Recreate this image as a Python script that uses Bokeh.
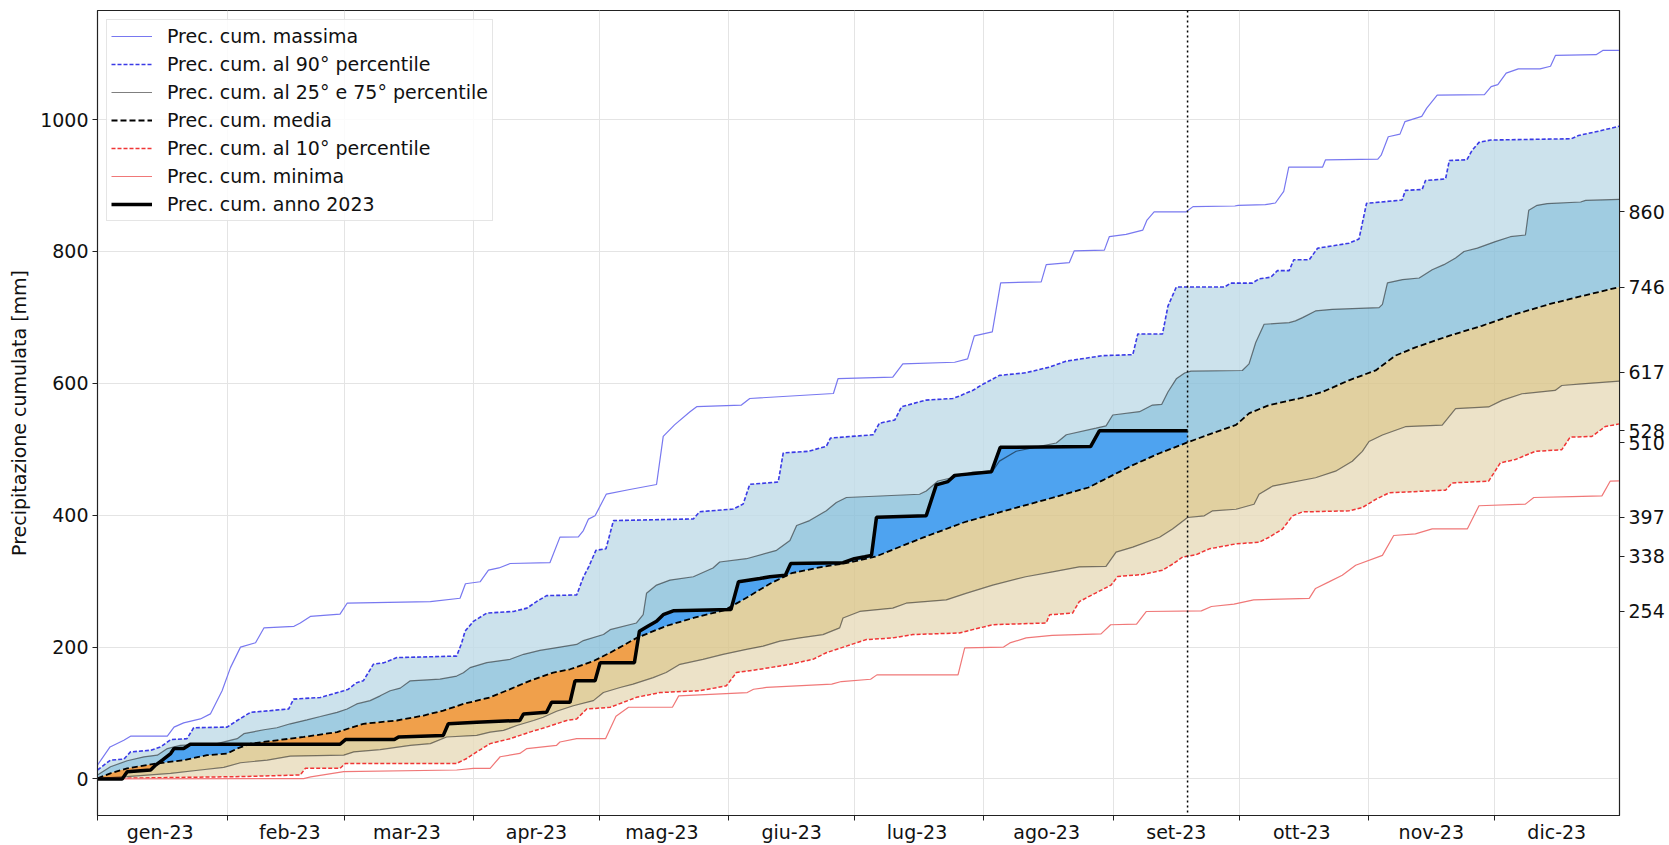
import numpy as np
from bokeh.plotting import figure
from bokeh.models import Range1d, LinearAxis, FixedTicker, Span, Legend, LegendItem
from bokeh.embed import file_html
from bokeh.resources import INLINE

# ---------------- data ----------------
month_labels = ["gen-23", "feb-23", "mar-23", "apr-23", "mag-23", "giu-23",
                "lug-23", "ago-23", "set-23", "ott-23", "nov-23", "dic-23"]
month_start_days = [0, 31, 59, 90, 120, 151, 181, 212, 243, 273, 304, 334]
month_label_days = [15, 46, 74, 105, 135, 166, 196, 227, 258, 288, 319, 349]
y_ticks = [0, 200, 400, 600, 800, 1000]
right_ticks = [860, 746, 617, 528, 510, 397, 338, 254]

max_days = [0, 3, 6.3, 8, 16.7, 18.3, 20.6, 24.6, 27, 29.8, 31.8, 34.2, 37.8, 39.8, 47, 48.5, 50.9, 58, 59.7, 79.6,
            86.7, 88, 91.5, 93.5, 96, 98.7, 108.2, 110.6, 115, 116.2, 117.4, 119, 121.7, 127.3, 133.7, 135.3, 138,
            141.7, 143.3, 154, 156, 176, 177.1, 190.2, 192.6, 205, 208.1, 209.7, 214, 216, 225.7, 226.9, 232.4,
            233.6, 240.8, 242, 246, 250, 251, 252.7, 260.3, 262, 272, 272.8, 279.3, 281.7, 283.7, 284.9, 293,
            293.7, 306.2, 307, 308.7, 311.5, 312.7, 316.7, 317.9, 320.4, 331.7, 333.3, 334.9, 336.9, 339.8, 345,
            347.5, 348.7, 358.4, 360, 364]
max_vals = [21, 48.5, 58.6, 65, 65, 78.6, 85, 91, 98.6, 133.7, 168.8, 199.9, 206.5, 229, 231.5, 236.5, 246.5, 250,
            266.5, 269, 274, 296, 299, 316.6, 320, 326.7, 328, 366.7, 367, 376.7, 394, 399.2, 432, 439, 446.5,
            519.5, 537, 557, 564.6, 567, 577, 584.6, 607, 609.5, 629.5, 632, 637, 672, 678, 752.5, 754, 780, 783,
            801, 802, 822.6, 826, 832.5, 847.6, 860, 860, 868, 869, 870, 871, 873.5, 891, 928, 928, 939, 940, 946,
            974, 978, 997, 1005, 1017.5, 1037, 1038, 1050, 1053, 1070.5, 1077, 1077, 1081, 1097.5, 1098.5, 1105,
            1105]

p90_days = [0, 3.1, 6.3, 7.9, 12.7, 15.1, 17.5, 21.4, 23, 31, 33.4, 36.6, 45.7, 46.9, 53.3, 58.9, 60, 62, 63.6, 66,
            68.4, 71.6, 85.9, 87.1, 87.9, 89.9, 93.1, 99.5, 102.7, 105, 107.4, 114.6, 116.2, 117.5, 119.2, 121.6,
            123.4, 142.5, 144, 152, 154.4, 156, 162.8, 164, 170, 174.3, 175.3, 185.5, 187, 190.7, 192.3, 198.2,
            204.6, 206.6, 209.4, 211.3, 215.7, 222, 227.6, 231.6, 240.4, 247.6, 248.8, 254.7, 256, 258, 269.5,
            271, 276.2, 277.8, 280.6, 282.2, 285, 286.1, 289.8, 291.8, 299.3, 301.7, 303.5, 312, 312.8, 316.8,
            317.6, 322.4, 323.3, 327.5, 328.7, 330.4, 333.2, 352.5, 354.2, 359, 364]
p90_vals = [13.5, 28.5, 30, 41, 43.5, 48.5, 59.6, 61, 77.6, 78.6, 88.6, 101, 106, 121, 123.5, 133.7, 136, 146, 149,
            174, 176, 184, 186.3, 206.3, 224, 239, 251.5, 254, 259, 269, 278, 279, 306, 322, 346.7, 349, 391.8,
            394.3, 405.3, 409.3, 416.8, 446.8, 450.3, 494.4, 496.9, 504.5, 517, 522, 539.5, 544.5, 564.6, 574.6,
            577, 582, 589.5, 597, 612, 616, 624.5, 633.6, 642, 643.5, 674.8, 674.8, 717, 746, 746, 752, 752, 758.5,
            761, 771, 771, 787.5, 787.5, 805, 812.5, 819, 873, 878, 892.6, 894, 907.6, 910, 938, 939, 953, 965.5,
            969, 971, 976, 982.5, 990]

p75_days = [0, 3.1, 7.1, 11.1, 14.3, 16.7, 19.8, 28.6, 33.4, 35, 39.8, 42.9, 46.1, 50.1, 53.3, 57.3, 59.7, 62, 65.2,
            67.6, 70, 72.4, 74.8, 81.9, 85.9, 87.5, 89.1, 93.1, 98.7, 101.9, 105.8, 110.6, 114.6, 116.2, 121, 122.6,
            128.9, 130.5, 131.3, 133.7, 136.9, 142.5, 147.2, 148.8, 155.2, 162.4, 165.6, 167.2, 170.3, 174.3,
            176.7, 179.1, 196.6, 198.2, 201, 206.1, 209.3, 214.1, 215.7, 219.7, 225.3, 229.3, 231.7, 238.8, 241.2,
            242.8, 249.2, 252.3, 254.5, 256, 258, 260, 261.5, 273.8, 275.4, 277, 279, 285, 286.5, 288.2, 291.3,
            295.3, 306.5, 307.3, 308.5, 312.1, 316.1, 319.2, 322, 324.8, 326.8, 330, 334.3, 337.9, 341.5, 342.3,
            344.3, 346.7, 354.7, 355.9, 364]
p75_vals = [6, 18.5, 27.5, 33.5, 36, 46, 51, 53.5, 61, 68.6, 74.6, 77.6, 83.6, 89.6, 94.6, 101, 106, 113.7, 118.7,
            126, 133.7, 137.7, 148.8, 151.3, 156, 161, 168.8, 176.3, 181.4, 189, 194.9, 200, 204, 209.8, 219, 226.4,
            236.5, 249, 281.5, 294, 301.6, 306.6, 320, 329, 334, 346.7, 361.7, 384.3, 391.8, 406.8, 419.3, 426.8,
            431.8, 436.8, 451.8, 459.4, 465.4, 467, 482, 497, 504.5, 509.5, 522, 532, 535.5, 552, 557, 567, 568,
            586.8, 606.8, 615.6, 618.5, 619.5, 629.5, 662, 689.6, 692, 694.7, 699.7, 709.8, 712.3, 714.8, 719.8,
            752.3, 757.3, 759.8, 772.3, 780, 790, 800, 805, 815, 822.4, 825, 862.6, 870, 872.6, 875, 877.5, 879]

mean_days = [0, 3.1, 7.1, 14.3, 20.6, 26.2, 31, 33.4, 36.6, 42.9, 49.3, 57.3, 63.6, 71.6, 78, 82.7, 87.5, 93.9,
             98.7, 103.4, 109, 113, 118.6, 122.6, 129, 136, 143, 150, 155, 160.8, 166, 172, 179.6, 186, 197.4,
             207.3, 217.2, 227.2, 237, 247.6, 254, 260.5, 266.7, 272.3, 275.4, 280.2, 287.4, 293, 299.3, 305.7,
             310.4, 315.2, 323.2, 331.1, 339.1, 347.1, 355, 364]
mean_vals = [1, 8.5, 16, 23.5, 28.5, 36, 38.5, 46, 53.5, 58.6, 63.6, 71, 83.6, 88.6, 96.1, 103.7, 113.7, 123.7,
             136.2, 148.8, 161.3, 166.3, 178.8, 191.4, 214, 232, 245, 256, 274, 296, 312, 320, 328, 337, 366,
             389.3, 407, 424.3, 442, 476, 494, 510, 524.5, 537, 554.5, 567, 577, 587, 604.6, 619.6, 642, 654.6,
             672, 687.3, 704.8, 719.9, 732.4, 746]

p25_days = [0, 7, 17.5, 24.6, 30.2, 34.2, 40.6, 46.1, 58.9, 61.3, 67.6, 74.8, 79.6, 83.5, 90.7, 93.9, 97.1, 100.3,
            104.3, 106.6, 109.8, 113.8, 118.6, 121, 125, 128.1, 132.9, 136, 139.3, 144.8, 149.6, 155.2, 159.2,
            163.2, 168, 173.5, 177.5, 178.3, 182.3, 190.2, 193.4, 203, 207.7, 214.1, 222, 228.4, 234.8, 241.2,
            243.6, 247.6, 254, 257.1, 260.7, 264.7, 266.7, 272.3, 276.6, 277.8, 281, 291.3, 296.1, 300.1, 302.5,
            304.1, 307.3, 312.8, 321.6, 323.2, 324.8, 332.7, 335.9, 340.7, 348.6, 350.2, 355, 364]
p25_vals = [1, 3.5, 8.5, 13.5, 17.5, 24.5, 28.5, 34.5, 36, 41, 44.5, 51, 53.5, 63.6, 66, 71, 73.6, 81, 88.6, 93.6,
            102.6, 111, 118.7, 131, 138.7, 143.7, 153.7, 161.3, 173.8, 181.4, 188.9, 196.4, 201.4, 209, 213.9,
            218.9, 229, 244, 254, 259, 266.5, 271.5, 281.5, 294, 306.6, 314.1, 321.6, 322.5, 344, 351.5, 366.6,
            379, 396.5, 399, 406.6, 409, 416.6, 431.7, 444, 456.8, 466.8, 481.8, 496.8, 511.8, 521.6, 534.2,
            536.7, 549.2, 561.7, 564.2, 574.2, 584.2, 589.2, 596.7, 599.3, 603.3]

p10_days = [0, 34.2, 48.5, 49.7, 58, 59.3, 85.9, 88.3, 90.7, 93.9, 98.7, 103.4, 107.4, 112.2, 114.6, 117, 122.6,
            128.9, 134.5, 144, 150.4, 152.8, 158.4, 165.6, 171.1, 174.3, 179.1, 183.9, 190.2, 195, 206.1, 209.3,
            214.1, 226.9, 227.7, 233.2, 234.8, 242.4, 244, 250, 254.7, 257.3, 259.5, 262.7, 265.9, 272.3, 277.8,
            280.2, 283.4, 285.8, 288.2, 299.3, 302.5, 305.7, 308.9, 322.4, 324, 332.7, 335.5, 339.1, 343.9, 350.2,
            352.2, 357.4, 360.6, 364]
p10_vals = [0.5, 3.5, 6, 16, 16, 23.5, 23.5, 31, 41, 53.5, 61, 71, 78.6, 88.6, 91, 106, 108.6, 123.7, 131, 133.7,
            141.2, 161.3, 166.3, 173.8, 181.4, 191.4, 201.4, 211.4, 213.9, 218.9, 221.4, 226.4, 233.9, 236.5, 249,
            251.5, 269, 294, 307, 310, 316.5, 326.5, 336.6, 340, 349, 356.5, 359, 366.6, 379, 399, 405, 406.6,
            411.6, 424, 434, 438, 449, 451.6, 479.4, 484.4, 496.9, 499.4, 518.4, 519.4, 534.5, 538.5]

min_days = [0, 49.3, 51, 58.9, 85.9, 89.9, 93.9, 96.3, 101, 102.7, 109.8, 110.6, 114.6, 121.5, 124, 127, 137.5, 139,
            155.4, 156.9, 160, 175.6, 177.9, 184.9, 186.4, 205.8, 207.4, 216.7, 218.2, 222.1, 228.3, 240, 242.3,
            248.5, 250.8, 264, 266.4, 271.8, 276.5, 289.8, 291.3, 294.5, 297.7, 300.9, 307.3, 310, 315.2, 319.2,
            327.6, 330.4, 341.5, 343.5, 352.7, 359.8, 361.8, 364]
min_vals = [0, 0.5, 3, 11, 13.5, 16, 16, 33.6, 38.6, 46, 51, 56, 61, 61, 95, 108.7, 108.7, 126, 131, 136, 138.7,
            143.7, 147.7, 151.2, 157.8, 157.8, 198.9, 199.9, 206.3, 213.9, 217.8, 219.9, 233.8, 234.8, 253.9,
            254.9, 261.5, 265, 271.5, 273.8, 288.9, 298.9, 309, 324, 339, 369.2, 371.6, 379.2, 379.2, 414.3, 416.8,
            426.8, 428.3, 429.3, 451.8, 452]

obs_days = [0, 5.9, 7.1, 12.7, 13.9, 15.5, 17.5, 18.3, 20.6, 22.2, 58, 59.3, 71, 72, 82.7, 83.9, 90.7, 101, 101.9,
            107.4, 108.6, 113, 114.2, 119, 120.2, 128.4, 129.6, 131.6, 133.7, 135.3, 137.7, 151.5, 153.3, 158.4,
            160.8, 164.5, 165.8, 178.3, 181, 183.5, 185.1, 186.3, 198.2, 200.6, 203.4, 205, 213.8, 215.9, 237.5,
            239.6, 260.7]
obs_vals = [0, 0, 11, 13.5, 21, 28.5, 38.5, 46, 46, 52.6, 52.6, 59.6, 59.6, 63.5, 66, 83.6, 86.1, 88.6, 98.6, 101,
            116.2, 116.2, 148.8, 148.8, 176.3, 176.3, 224, 231.4, 239, 249, 255, 257, 299, 304, 306.6, 309, 326.6,
            328, 334, 337, 339, 397, 399.3, 446, 451, 460.4, 466, 503, 504, 528, 528]

# ---------------- figure ----------------
FONT = "DejaVu Sans"
FS = "19px"

p = figure(width=1667, height=845, x_range=Range1d(0, 364), y_range=Range1d(-55.5, 1165.5),
           output_backend="svg", toolbar_location=None,
           min_border_left=97, min_border_right=47, min_border_top=10, min_border_bottom=0)
p.background_fill_color = "white"
p.border_fill_color = "white"
p.outline_line_color = "#222222"
p.outline_line_width = 1.2


def band(xu, yu, xl, yl, color):
    xs = list(xu) + list(xl)[::-1]
    ys = list(yu) + list(yl)[::-1]
    p.patch(xs, ys, fill_color=color, fill_alpha=0.8, line_color=None)


band(p90_days, p90_vals, p75_days, p75_vals, "#bfdbe7")
band(p75_days, p75_vals, mean_days, mean_vals, "#88bfda")
band(mean_days, mean_vals, p25_days, p25_vals, "#d9c488")
band(p25_days, p25_vals, p10_days, p10_vals, "#e7dbba")

# 2023 vs mean fill
grid = np.linspace(0, obs_days[-1], 5000)
obs_i = np.interp(grid, obs_days, obs_vals)
mean_i = np.interp(grid, mean_days, mean_vals)
p.varea(x=grid, y1=mean_i, y2=np.maximum(obs_i, mean_i), fill_color="#4ea3f0")
p.varea(x=grid, y1=np.minimum(obs_i, mean_i), y2=mean_i, fill_color="#f0a04b")

r_max = p.line(max_days, max_vals, line_color="#7878f0", line_width=1.2)
r_p90 = p.line(p90_days, p90_vals, line_color="#3a3ae6", line_width=1.6, line_dash="4 2")
r_p75 = p.line(p75_days, p75_vals, line_color="black", line_alpha=0.5, line_width=1.2)
r_p25 = p.line(p25_days, p25_vals, line_color="black", line_alpha=0.5, line_width=1.2)
r_mean = p.line(mean_days, mean_vals, line_color="black", line_width=1.8, line_dash="6 3")
r_p10 = p.line(p10_days, p10_vals, line_color="#f03535", line_width=1.5, line_dash="4 2")
r_min = p.line(min_days, min_vals, line_color="#f07878", line_width=1.2)
r_obs = p.line(obs_days, obs_vals, line_color="black", line_width=3.5)

p.add_layout(Span(location=obs_days[-1], dimension="height", line_color="black",
                  line_width=1.5, line_dash="2 3"))

# grids
p.xgrid.ticker = FixedTicker(ticks=month_start_days)
p.ygrid.ticker = FixedTicker(ticks=y_ticks)
for g in (p.xgrid, p.ygrid):
    g.grid_line_color = "#e4e4e4"
    g.grid_line_width = 1

# x axis
xa = p.xaxis[0]
xa.ticker = FixedTicker(ticks=month_label_days, minor_ticks=month_start_days)
xa.major_label_overrides = {d: lab for d, lab in zip(month_label_days, month_labels)}
xa.major_tick_out = 0
xa.major_tick_in = 0
xa.minor_tick_out = 5
xa.minor_tick_in = 0
xa.major_label_standoff = 0
xa.axis_line_color = "#222222"
xa.minor_tick_line_color = "#222222"
xa.major_label_text_font = FONT
xa.major_label_text_font_size = FS
xa.major_label_text_color = "#111111"

# left y axis
ya = p.yaxis[0]
ya.ticker = FixedTicker(ticks=y_ticks)
ya.major_tick_out = 5
ya.major_tick_in = 0
ya.minor_tick_out = 0
ya.minor_tick_in = 0
ya.major_label_standoff = 4
ya.axis_line_color = "#222222"
ya.major_tick_line_color = "#222222"
ya.major_label_text_font = FONT
ya.major_label_text_font_size = FS
ya.major_label_text_color = "#111111"
ya.axis_label = "Precipitazione cumulata [mm]"
ya.axis_label_text_font = FONT
ya.axis_label_text_font_size = FS
ya.axis_label_text_font_style = "normal"
ya.axis_label_text_color = "#111111"
ya.axis_label_standoff = 7

# right y axis with current-date values
ra = LinearAxis(ticker=FixedTicker(ticks=right_ticks))
ra.major_tick_out = 5
ra.major_tick_in = 0
ra.minor_tick_out = 0
ra.minor_tick_in = 0
ra.major_label_standoff = 4
ra.axis_line_color = "#222222"
ra.major_tick_line_color = "#222222"
ra.major_label_text_font = FONT
ra.major_label_text_font_size = FS
ra.major_label_text_color = "#111111"
p.add_layout(ra, "right")

legend = Legend(items=[
    LegendItem(label="Prec. cum. massima", renderers=[r_max]),
    LegendItem(label="Prec. cum. al 90° percentile", renderers=[r_p90]),
    LegendItem(label="Prec. cum. al 25° e 75° percentile", renderers=[r_p75]),
    LegendItem(label="Prec. cum. media", renderers=[r_mean]),
    LegendItem(label="Prec. cum. al 10° percentile", renderers=[r_p10]),
    LegendItem(label="Prec. cum. minima", renderers=[r_min]),
    LegendItem(label="Prec. cum. anno 2023", renderers=[r_obs]),
], location="top_left")
legend.margin = 9
legend.padding = 4
legend.spacing = 4
legend.label_height = 24
legend.glyph_height = 24
legend.glyph_width = 41
legend.label_standoff = 15
legend.label_text_font = FONT
legend.label_text_font_size = FS
legend.label_text_color = "#111111"
legend.border_line_color = "#cccccc"
legend.border_line_width = 1
legend.background_fill_color = "white"
legend.background_fill_alpha = 0.85
p.add_layout(legend)

open("out.html", "w").write(file_html(p, INLINE))
